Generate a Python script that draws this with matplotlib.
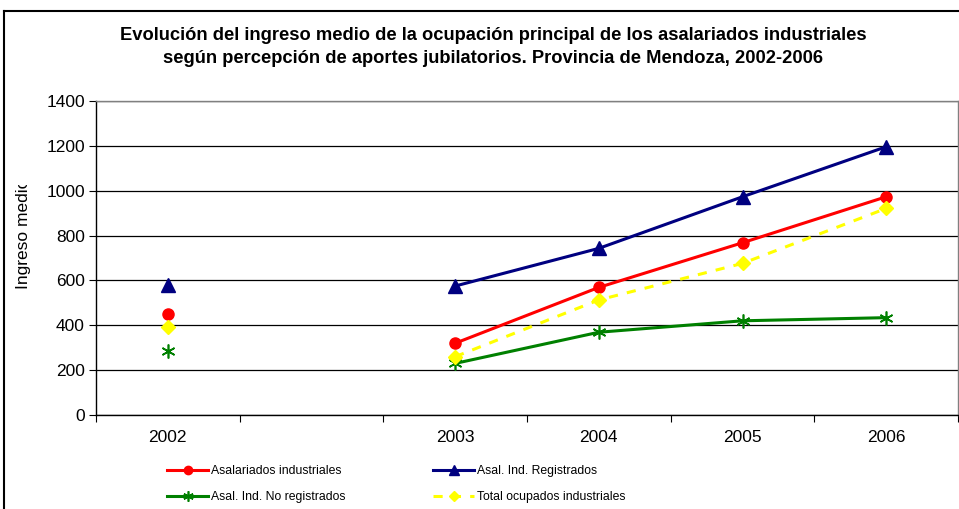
import numpy as np
import matplotlib
matplotlib.use('Agg')
import matplotlib.pyplot as plt
from matplotlib import font_manager
from matplotlib.lines import Line2D
from matplotlib.transforms import Bbox, TransformedBbox

plt.rcParams['font.family'] = ['Liberation Sans', 'DejaVu Sans']

# datos
anios = ['2002', '', '2003', '2004', '2005', '2006']
asalariados = [450, np.nan, 320, 569, 768, 973]
registrados = [580, np.nan, 575, 743, 973, 1196]
no_registrados = [287, np.nan, 230, 369, 420, 434]
total_ocupados = [394, np.nan, 260, 513, 676, 921]

titulo = ('Evolución del ingreso medio de la ocupación principal de los asalariados industriales\n'
          'según percepción de aportes jubilatorios. Provincia de Mendoza, 2002-2006')

# fuente angosta si existe
try:
    font_manager.findfont('Liberation Sans Narrow', fallback_to_default=False)
    fuente_ley, tam_ley = 'Liberation Sans Narrow', 10.0
except ValueError:
    fuente_ley, tam_ley = 'Liberation Sans', 8.8

fig = plt.figure(figsize=(9.59, 5.09), dpi=100)
ax = fig.add_axes([96 / 959, 94 / 509, 862 / 959, 314 / 509])

x = np.arange(len(anios))

ax.plot(x, asalariados, color='#FF0000', lw=2.2, marker='o', ms=8,
        label='Asalariados industriales')
ax.plot(x, registrados, color='#000080', lw=2.2, marker='^', ms=10,
        label='Asal. Ind. Registrados')
ax.plot(x, no_registrados, color='#008000', lw=2.2, marker=(6, 2, 0), ms=10,
        mew=1.2, label='Asal. Ind. No registrados')
ax.plot(x, total_ocupados, color='#FFFF00', lw=2.2, ls=(0, (3, 3)), marker='D', ms=7,
        label='Total ocupados industriales')

ax.set_xlim(-0.5, len(anios) - 0.5)
ax.set_ylim(0, 1400)
ax.set_yticks(range(0, 1401, 200))
ax.yaxis.grid(True, color='black', lw=0.9)
ax.set_axisbelow(True)

ax.set_xticks(np.arange(-0.5, len(anios), 1.0))
ax.set_xticklabels([])
ax.set_xticks(x, minor=True)
ax.set_xticklabels(anios, minor=True)
ax.tick_params(axis='x', which='major', direction='out', length=5, color='black')
ax.tick_params(axis='x', which='minor', length=0, pad=11, labelsize=12.5)
ax.tick_params(axis='y', direction='out', length=5, labelsize=12.5, pad=3)

ax.spines['left'].set_color('black')
ax.spines['bottom'].set_color('black')
ax.spines['top'].set_color('#808080')
ax.spines['right'].set_color('#808080')
for s in ax.spines.values():
    s.set_linewidth(1.0)

fig.text(493 / 959, 1 - 47 / 509, titulo, ha='center', va='center',
         fontsize=13.2, fontweight='bold', linespacing=1.45)

# etiqueta del eje y recortada como en el original
yl = fig.text(24 / 959, 1 - 289 / 509, 'Ingreso medio', rotation=90,
              ha='center', va='bottom', fontsize=12.5)
yl.set_clip_on(True)
yl.set_clip_box(TransformedBbox(Bbox([[0, 0], [1, 1 - 185 / 509]]), fig.transFigure))

# marco del gráfico
fig.add_artist(Line2D([4 / 959, 1], [1 - 11 / 509, 1 - 11 / 509], color='black', lw=1.5))
fig.add_artist(Line2D([4 / 959, 4 / 959], [0, 1 - 11 / 509], color='black', lw=1.5))

h, l = ax.get_legend_handles_labels()
prop = {'family': fuente_ley, 'size': tam_ley}
em = tam_ley * 100 / 72
for cols, x0 in (([0, 2], 167), ([1, 3], 433)):
    fig.legend([h[i] for i in cols], [l[i] for i in cols], frameon=False,
               loc='center left', bbox_to_anchor=(x0 / 959, 1 - 484 / 509),
               prop=prop, handlelength=41 / em, handletextpad=3 / em,
               borderpad=0, borderaxespad=0, labelspacing=(26 - em) / em,
               markerscale=0.75)

fig.savefig('out.png', dpi=100)
